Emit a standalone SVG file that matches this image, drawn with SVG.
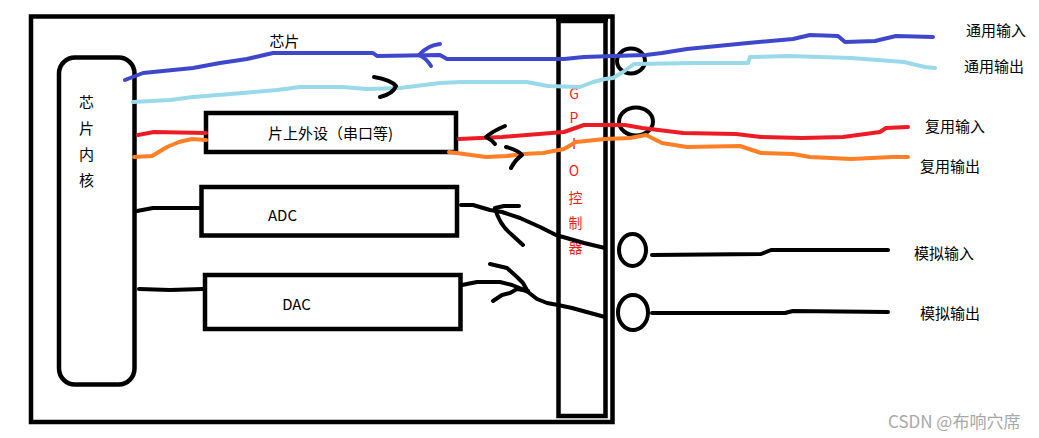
<svg xmlns="http://www.w3.org/2000/svg" width="1039" height="438" viewBox="0 0 1039 438">
<style>
.box{fill:none;stroke:#000;stroke-width:4.5}
.pin{fill:none;stroke:#000;stroke-width:4}
.w{fill:none;stroke-width:4;stroke-linejoin:round;stroke-linecap:round}
.k{stroke:#000}
.b1{stroke:#3f48cc}
.b2{stroke:#99d9ea}
.r{stroke:#ed1c24}
.o{stroke:#ff7f27}
text{font-family:"Noto Sans CJK SC","Noto Sans",sans-serif;font-size:15px;fill:#000;dominant-baseline:central;text-anchor:middle}
.g{fill:#ff1a1a;font-size:14px}
.lbl{text-anchor:start}
</style>
<rect width="1039" height="438" fill="#fff"/>
<g id="chip">
<rect class="box" x="31" y="16.5" width="581.5" height="405.5"/>
<text x="284.5" y="40">芯片</text>
</g>
<g id="gpio">
<rect class="box" x="558.5" y="21" width="47" height="395" style="stroke-width:4.5"/>
<line x1="556" y1="19" x2="608" y2="19" stroke="#000" stroke-width="5"/>
<text class="g" x="574" y="92.5">G</text>
<text class="g" x="574" y="117">P</text>
<text class="g" x="574" y="143">I</text>
<text class="g" x="574" y="170">O</text>
<text class="g" x="575.5" y="197">控</text>
<text class="g" x="575.5" y="222">制</text>
<text class="g" x="575.5" y="247">器</text>
</g>
<g id="core">
<rect class="box" x="59" y="57.5" width="75.5" height="327" rx="16"/>
<text x="86.5" y="101.5">芯</text>
<text x="86.5" y="127.5">片</text>
<text x="86.5" y="153.5">内</text>
<text x="86.5" y="179.5">核</text>
</g>
<g id="periph">
<rect class="box" x="206" y="113" width="250" height="39"/>
<text x="330.5" y="132.5">片上外设（串口等)</text>
</g>
<g id="adc">
<rect class="box" x="201.5" y="187" width="255.5" height="48.5"/>
<text x="282.5" y="214">ADC</text>
</g>
<g id="dac">
<rect class="box" x="205" y="275" width="255.5" height="54"/>
<text x="296.5" y="303">DAC</text>
</g>
<g id="pins">
<ellipse class="pin" cx="631" cy="61" rx="14" ry="12.5"/>
<ellipse class="pin" cx="636" cy="121.5" rx="17" ry="14"/>
<ellipse class="pin" cx="632.5" cy="250" rx="13.5" ry="16"/>
<ellipse class="pin" cx="633" cy="312.5" rx="15" ry="17.5"/>
</g>
<g id="labels">
<text class="lbl" x="966" y="29">通用输入</text>
<text class="lbl" x="964" y="65">通用输出</text>
<text class="lbl" x="925" y="125">复用输入</text>
<text class="lbl" x="920" y="165">复用输出</text>
<text class="lbl" x="914" y="252">模拟输入</text>
<text class="lbl" x="920" y="312">模拟输出</text>
<text class="lbl" x="888" y="420" style="fill:#a8a8a8;font-size:17px">CSDN @布响穴席</text>
</g>
<g id="connectors">
<path class="w b1" d="M125,80 L143,73 L193,68 L220,63 L247,59 L273,53 L337,53 L373,53 L377,56 L440,55 L447,59 L564,59 L584,57 L613,56 L646,55 L662,53 L687,49 L748,43 L793,39 L810,35 L838,36 L845,42 L875,41 L896,36 L933,37"/>
<path class="w b1" d="M440,44 Q428,45 419,55 Q426,58 431,66"/>
<path class="w b2" d="M133,102 L170,100 L193,97 L243,93 L277,90 L300,87 L343,87 L367,89 L400,88 L440,83 L461,82 L527,82 L548,86 L580,87 L593,82 L605,79 L613,78 L623,72 L634,64 L695,63 L748,63 L750,57 L789,56 L851,58 L904,62 L925,67 L935,68"/>
<path class="w k" d="M374,77 Q391,80 396,86 Q393,94 380,97"/>
<path class="w r" d="M138,135 L154,132 L206,133"/>
<path class="w r" d="M459,139 L502,137 L564,132 L584,125 L625,125 L642,128 L683,133 L736,134 L761,137 L802,138 L843,137 L880,132 L886,128 L908,127"/>
<path class="w k" d="M505,126 Q493,131 486,137 Q492,140 495,144"/>
<path class="w o" d="M134,157 L152,156 L167,147 L179,142 L192,139 L206,140"/>
<path class="w o" d="M449,152 L486,157 L507,156 L523,154 L543,153 L564,149 L576,142 L605,139 L630,138 L646,135 L662,143 L687,147 L740,146 L761,153 L793,154 L810,157 L851,159 L892,157 L908,157"/>
<path class="w k" d="M506,147 Q518,150 522,155 Q515,160 511,168"/>
<path class="w k" d="M137,211 L153,208 L199,208"/>
<path class="w k" d="M139,289 L170,290 L203,289"/>
<path class="w k" d="M461,205 L473,205 L490,210 L502,212 L520,218 L540,227 L556,235 L584,243 L605,248"/>
<path class="w k" d="M519,206 L504,206 L495,208 Q499,224 511,234 L523,245"/>
<path class="w k" d="M462,285 L477,282 L500,282 L512,285 L522,289 L528,292 L537,299 L547,303 L558,305 L572,308 L605,317"/>
<path class="w k" d="M490,264 L507,268 L517,277 L523,283 L528,292"/>
<path class="w k" d="M493,301 L502,295 L510,293 L517,289 L528,291"/>
<path class="w k" d="M652,255 L761,254 L771,250 L888,250"/>
<path class="w k" d="M652,313 L785,313 L793,311 L888,312"/>
</g>
</svg>
